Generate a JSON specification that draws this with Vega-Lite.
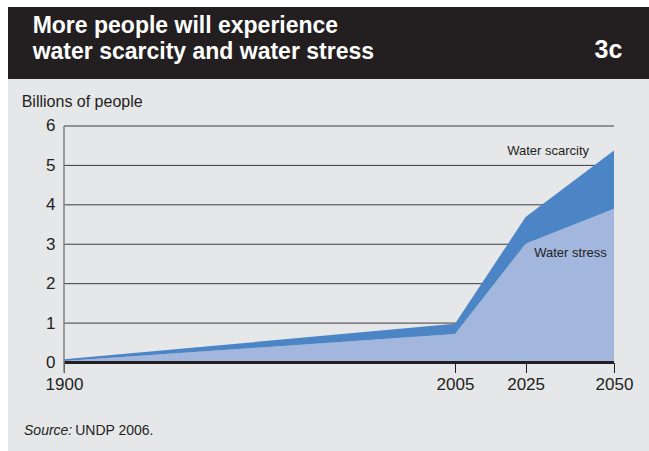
{
  "$schema": "https://vega.github.io/schema/vega-lite/v6.json",
  "background": "#ffffff",
  "padding": {"left": 8, "top": 7, "right": 0, "bottom": 0},
  "spacing": 0,
  "config": {"font": "Liberation Sans", "view": {"stroke": null}},
  "vconcat": [
    {
      "width": 641,
      "height": 72,
      "view": {"fill": "#231f20", "stroke": null},
      "data": {"values": [{"k": 1}]},
      "layer": [
        {
          "mark": {"type": "text", "text": "More people will experience", "align": "left", "baseline": "alphabetic", "fontSize": 23, "fontWeight": "bold", "color": "#ffffff"},
          "encoding": {
            "x": {"datum": 25, "type": "quantitative", "scale": {"domain": [0, 641], "range": [0, 641]}, "axis": null},
            "y": {"datum": 29, "type": "quantitative", "scale": {"domain": [0, 72], "range": [0, 72]}, "axis": null}
          }
        },
        {
          "mark": {"type": "text", "text": "water scarcity and water stress", "align": "left", "baseline": "alphabetic", "fontSize": 23, "fontWeight": "bold", "color": "#ffffff"},
          "encoding": {
            "x": {"datum": 25, "type": "quantitative"},
            "y": {"datum": 57.5, "type": "quantitative"}
          }
        },
        {
          "mark": {"type": "text", "text": "3c", "align": "right", "baseline": "alphabetic", "fontSize": 25, "fontWeight": "bold", "color": "#ffffff"},
          "encoding": {
            "x": {"datum": 623, "type": "quantitative"},
            "y": {"datum": 57, "type": "quantitative"}
          }
        }
      ]
    },
    {
      "width": 641,
      "height": 372,
      "view": {"fill": "#e6e7e9", "stroke": null},
      "data": {"values": [{"k": 1}]},
      "layer": [
        {
          "data": {"values": [{"level": 1}, {"level": 2}, {"level": 3}, {"level": 4}, {"level": 5}, {"level": 6}]},
          "mark": {"type": "rule", "color": "#3d3d3d", "strokeWidth": 1},
          "encoding": {
            "x": {"datum": 1900, "type": "quantitative",
              "scale": {"type": "linear", "domain": [1885, 1900, 2005, 2025, 2050, 2060], "range": [0, 56, 447, 517.6, 606, 641], "nice": false, "zero": false},
              "axis": {"values": [1900, 2005, 2025, 2050], "format": "d", "offset": -88.5, "domain": false, "grid": false, "ticks": true, "tickColor": "#231f20", "tickSize": 10, "tickWidth": 1, "labelFontSize": 17, "labelColor": "#231f20", "labelPadding": 4, "title": null}},
            "x2": {"datum": 2050},
            "y": {"field": "level", "type": "quantitative",
              "scale": {"domain": [-2.245, 7.192], "nice": false, "zero": false},
              "axis": {"values": [0, 1, 2, 3, 4, 5, 6], "offset": -56, "domain": false, "grid": false, "ticks": false, "labelFontSize": 17, "labelColor": "#231f20", "labelPadding": 9, "title": null}}
          }
        },
        {
          "data": {"values": [
            {"year": 1900, "series": "Water stress", "people": 0.04, "rank": 1},
            {"year": 2005, "series": "Water stress", "people": 0.72, "rank": 1},
            {"year": 2025, "series": "Water stress", "people": 3.01, "rank": 1},
            {"year": 2050, "series": "Water stress", "people": 3.90, "rank": 1},
            {"year": 1900, "series": "Water scarcity", "people": 0.04, "rank": 2},
            {"year": 2005, "series": "Water scarcity", "people": 0.26, "rank": 2},
            {"year": 2025, "series": "Water scarcity", "people": 0.68, "rank": 2},
            {"year": 2050, "series": "Water scarcity", "people": 1.48, "rank": 2}
          ]},
          "mark": {"type": "area", "interpolate": "linear"},
          "encoding": {
            "x": {"field": "year", "type": "quantitative"},
            "y": {"field": "people", "type": "quantitative", "stack": "zero"},
            "color": {"field": "series", "type": "nominal", "scale": {"domain": ["Water stress", "Water scarcity"], "range": ["#a2b6de", "#4b85c5"]}, "legend": null},
            "order": {"field": "rank", "type": "quantitative"}
          }
        },
        {
          "mark": {"type": "rule", "color": "#231f20", "strokeWidth": 3.2},
          "encoding": {
            "x": {"datum": 1900, "type": "quantitative"},
            "x2": {"datum": 2050},
            "y": {"datum": 0, "type": "quantitative"}
          }
        },
        {
          "mark": {"type": "rule", "color": "#808080", "strokeWidth": 1.5},
          "encoding": {
            "x": {"datum": 1900, "type": "quantitative"},
            "y": {"datum": -0.26, "type": "quantitative"},
            "y2": {"datum": 6}
          }
        },
        {
          "mark": {"type": "text", "text": "Billions of people", "align": "left", "baseline": "alphabetic", "fontSize": 16, "color": "#231f20"},
          "encoding": {
            "x": {"datum": 1888.67, "type": "quantitative"},
            "y": {"datum": 6.482, "type": "quantitative"}
          }
        },
        {
          "mark": {"type": "text", "text": "Water scarcity", "align": "right", "baseline": "alphabetic", "fontSize": 13, "color": "#231f20"},
          "encoding": {
            "x": {"datum": 2042.93, "type": "quantitative"},
            "y": {"datum": 5.264, "type": "quantitative"}
          }
        },
        {
          "mark": {"type": "text", "text": "Water stress", "align": "right", "baseline": "alphabetic", "fontSize": 13, "color": "#231f20"},
          "encoding": {
            "x": {"datum": 2047.94, "type": "quantitative"},
            "y": {"datum": 2.669, "type": "quantitative"}
          }
        },
        {
          "mark": {"type": "text", "text": "Source:", "align": "left", "baseline": "alphabetic", "fontSize": 14, "fontStyle": "italic", "color": "#231f20"},
          "encoding": {
            "x": {"datum": 1889.29, "type": "quantitative"},
            "y": {"datum": -1.839, "type": "quantitative"}
          }
        },
        {
          "mark": {"type": "text", "text": "UNDP 2006.", "align": "left", "baseline": "alphabetic", "fontSize": 14, "color": "#231f20"},
          "encoding": {
            "x": {"datum": 1903.0, "type": "quantitative"},
            "y": {"datum": -1.839, "type": "quantitative"}
          }
        }
      ]
    }
  ]
}
